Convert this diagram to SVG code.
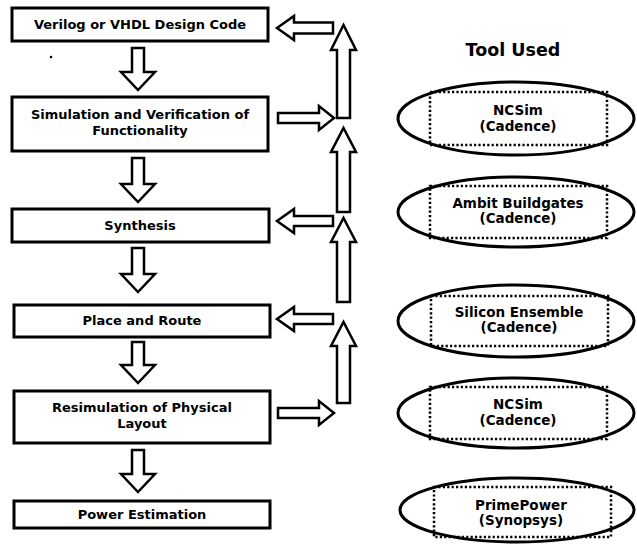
<svg xmlns="http://www.w3.org/2000/svg" width="637" height="546" viewBox="0 0 637 546">
<style>
.box{fill:#fff;stroke:#000;stroke-width:3}
.arr{fill:#fff;stroke:#000;stroke-width:2.5;stroke-linejoin:miter}
.ell{fill:#fff;stroke:#000;stroke-width:3}
.dot{fill:none;stroke:#000;stroke-width:2.5;stroke-dasharray:2.2 2.2}
text{font-family:"DejaVu Sans","Verdana",sans-serif;font-weight:bold;font-size:13px;text-anchor:middle;fill:#000}
.title{font-size:17.5px}
.tl{font-size:13.5px}
</style>
<rect width="637" height="546" fill="#fff"/>
<g id="connectors">
<polygon class="arr" points="132,48 144,48 144,72 155,72 138,90 121,72 132,72"/>
<polygon class="arr" points="132,158 144,158 144,184 155,184 138,202 121,184 132,184"/>
<polygon class="arr" points="132,248 144,248 144,274 155,274 138,292 121,274 132,274"/>
<polygon class="arr" points="132,342 144,342 144,365 155,365 138,383 121,365 132,365"/>
<polygon class="arr" points="132,450 144,450 144,474 155,474 138,492 121,474 132,474"/>
<polygon class="arr" points="333,22.5 294,22.5 294,16 277,28 294,40 294,33.5 333,33.5"/>
<polygon class="arr" points="333,216 294,216 294,209 277,221 294,233 294,226 333,226"/>
<polygon class="arr" points="333,314 294,314 294,307 277,319 294,331 294,324 333,324"/>
<polygon class="arr" points="278,113 319,113 319,106 334,118 319,130 319,123 278,123"/>
<polygon class="arr" points="278,408 319,408 319,401 334,413 319,425 319,418 278,418"/>
<polygon class="arr" points="337,118 350,118 350,50 356,50 343.5,25 331,50 337,50"/>
<polygon class="arr" points="337,212 350,212 350,152 356,152 343.5,128 331,152 337,152"/>
<polygon class="arr" points="337,302 350,302 350,242 356,242 343.5,218 331,242 337,242"/>
<polygon class="arr" points="337,403 350,403 350,346 356,346 343.5,322 331,346 337,346"/>
</g>
<g id="n1"><rect class="box" x="12" y="8" width="256" height="33"/><text x="140" y="29">Verilog or VHDL Design Code</text></g>
<g id="n2"><rect class="box" x="12" y="97" width="256" height="54"/><text x="140" y="119">Simulation and Verification of</text><text x="140" y="135">Functionality</text></g>
<g id="n3"><rect class="box" x="12" y="209" width="257" height="33"/><text x="140" y="230">Synthesis</text></g>
<g id="n4"><rect class="box" x="14" y="305" width="256" height="32"/><text x="142" y="325">Place and Route</text></g>
<g id="n5"><rect class="box" x="14" y="391" width="256" height="52"/><text x="142" y="412">Resimulation of Physical</text><text x="142" y="428">Layout</text></g>
<g id="n6"><rect class="box" x="14" y="501" width="256" height="27"/><text x="142" y="519">Power Estimation</text></g>
<circle cx="51" cy="57" r="1.3" fill="#000"/>
<g id="title"><text class="title" x="513" y="56">Tool Used</text></g>
<g id="t1"><ellipse class="ell" cx="516" cy="118.5" rx="118" ry="36.5"/><rect class="dot" x="430" y="92" width="177" height="53"/><text class="tl" x="518" y="115">NCSim</text><text class="tl" x="518" y="131">(Cadence)</text></g>
<g id="t2"><ellipse class="ell" cx="516" cy="212" rx="118" ry="35"/><rect class="dot" x="430" y="186" width="177" height="52"/><text class="tl" x="518" y="208">Ambit Buildgates</text><text class="tl" x="518" y="223">(Cadence)</text></g>
<g id="t3"><ellipse class="ell" cx="516" cy="321" rx="118" ry="36"/><rect class="dot" x="431" y="296" width="177" height="50"/><text class="tl" x="519" y="317">Silicon Ensemble</text><text class="tl" x="519" y="332">(Cadence)</text></g>
<g id="t4"><ellipse class="ell" cx="516" cy="413" rx="118" ry="35"/><rect class="dot" x="430" y="387" width="177" height="52"/><text class="tl" x="518" y="409">NCSim</text><text class="tl" x="518" y="425">(Cadence)</text></g>
<g id="t5"><ellipse class="ell" cx="517" cy="510" rx="117" ry="32"/><rect class="dot" x="434" y="487" width="177" height="50"/><text class="tl" x="521" y="510">PrimePower</text><text class="tl" x="521" y="525">(Synopsys)</text></g>
</svg>
